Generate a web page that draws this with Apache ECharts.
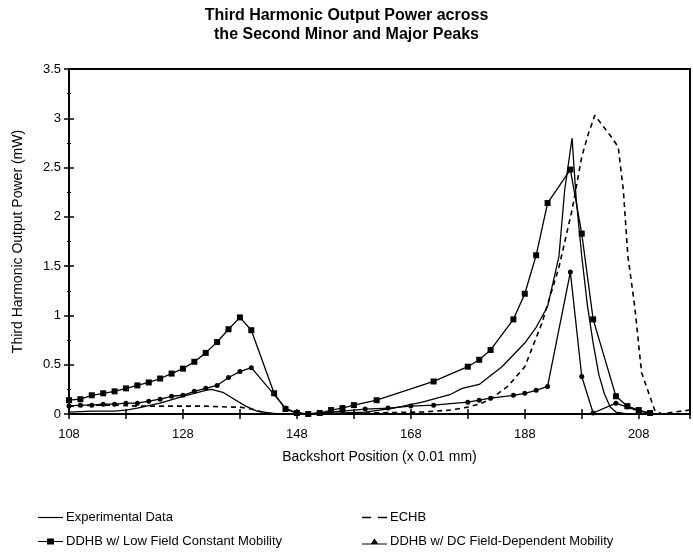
<!DOCTYPE html>
<html>
<head>
<meta charset="utf-8">
<style>
    html, body { margin: 0; padding: 0; background: #fff; }
    #chart { width: 693px; height: 552px; }
</style>
<script src="https://cdn.jsdelivr.net/npm/echarts@6/dist/echarts.min.js"></script>
</head>
<body>
<div id="chart"></div>
<script>
    // series names (legend order)
    var names = ['Experimental Data', 'ECHB', 'DDHB w/ Low Field Constant Mobility', 'DDHB w/ DC Field-Dependent Mobility'];

    // Experimental Data (solid, no markers)
    var expX = [108, 112, 116, 118, 120, 124, 128, 130, 132, 133, 135, 137, 139, 141, 143, 145, 150, 156, 160, 165, 170, 175, 177, 180, 184, 188, 190, 192, 194, 195, 196.3, 197, 198, 199, 200, 201, 202, 203, 204, 206, 210, 217];
    var expY = [0.02, 0.03, 0.03, 0.04, 0.06, 0.11, 0.18, 0.21, 0.24, 0.25, 0.22, 0.15, 0.08, 0.03, 0.01, 0, 0, 0.01, 0.02, 0.06, 0.12, 0.2, 0.26, 0.3, 0.48, 0.72, 0.88, 1.09, 1.6, 2.27, 2.8, 2.2, 1.6, 1.1, 0.72, 0.4, 0.2, 0.07, 0.02, 0, 0, 0];

    // ECHB (dashed)
    var echbX = [108, 112, 116, 120, 124, 128, 132, 136, 138, 140, 142, 144, 150, 160, 170, 175, 178, 180, 182, 185, 188, 191, 194, 196.3, 198, 199.2, 200.3, 203.2, 204.4, 205.3, 206.1, 207.3, 208.5, 210.8, 212, 214.3, 217];
    var echbY = [0.08, 0.09, 0.09, 0.08, 0.08, 0.08, 0.08, 0.07, 0.07, 0.05, 0.02, 0, 0, 0.01, 0.02, 0.04, 0.07, 0.1, 0.15, 0.28, 0.48, 0.92, 1.49, 2.07, 2.61, 2.85, 3.03, 2.81, 2.71, 2.27, 1.6, 1.09, 0.42, 0.04, 0, 0.02, 0.04];

    // DDHB w/ Low Field Constant Mobility (squares)
    var lowX = [108, 110, 112, 114, 116, 118, 120, 122, 124, 126, 128, 130, 132, 134, 136, 138, 140, 144, 146, 148, 150, 152, 154, 156, 158, 162, 172, 178, 180, 182, 186, 188, 190, 192, 196, 198, 200, 204, 206, 208, 210];
    var lowY = [0.14, 0.15, 0.19, 0.21, 0.23, 0.26, 0.29, 0.32, 0.36, 0.41, 0.46, 0.53, 0.62, 0.73, 0.86, 0.98, 0.85, 0.21, 0.05, 0.01, 0, 0.01, 0.04, 0.06, 0.09, 0.14, 0.33, 0.48, 0.55, 0.65, 0.96, 1.22, 1.61, 2.14, 2.48, 1.83, 0.96, 0.18, 0.08, 0.04, 0.01];

    // DDHB w/ DC Field-Dependent Mobility (dots)
    var dcX = [108, 110, 112, 114, 116, 118, 120, 122, 124, 126, 128, 130, 132, 134, 136, 138, 140, 146, 148, 150, 152, 156, 160, 164, 168, 172, 178, 180, 182, 186, 188, 190, 192, 196, 198, 200, 204, 206, 208, 210];
    var dcY = [0.08, 0.09, 0.09, 0.1, 0.1, 0.11, 0.11, 0.13, 0.15, 0.18, 0.19, 0.23, 0.26, 0.29, 0.37, 0.43, 0.47, 0.06, 0.01, 0, 0.01, 0.03, 0.05, 0.06, 0.08, 0.09, 0.12, 0.14, 0.16, 0.19, 0.21, 0.24, 0.28, 1.44, 0.38, 0.01, 0.11, 0.07, 0.03, 0.01];

    // axis ticks
    var xMin = 108, xMax = 217, xStep = 10;
    var yMin = 0, yMax = 3.5, yStep = 0.5;

    function pairs(xs, ys) {
        return xs.map(function (x, i) { return [x, ys[i]]; });
    }

    var font = "'Liberation Sans', Arial, sans-serif";
    var chart = echarts.init(document.getElementById('chart'));

    var xBase = {
        type: 'value', min: xMin, max: xMax, interval: xStep,
        splitLine: {show: false},
        axisLine: {onZero: false, lineStyle: {color: '#000', width: 2}}
    };
    var yBase = {
        type: 'value', min: yMin, max: yMax, interval: yStep,
        splitLine: {show: false},
        axisLine: {lineStyle: {color: '#000', width: 2}}
    };

    function legendAt(name, left, top, icon) {
        return {
            data: [{name: name, icon: icon}], left: left, top: top,
            itemWidth: 25, itemHeight: 9, itemGap: 0,
            textStyle: {fontFamily: font, fontSize: 13, color: '#000', padding: [0, 0, 0, -2]}
        };
    }

    // legend glyphs: plain line, short dashes, line with square, line with triangle
    var lineIcon = 'path://M0,4L25,4L25,5.2L0,5.2Z';
    var dashIcon = 'path://M0,4L8,4L8,5.4L0,5.4Z M14,4L22,4L22,5.4L14,5.4Z';
    var squareIcon = 'path://M0,4L9,4L9,1.5L16,1.5L16,4L25,4L25,5L16,5L16,7.5L9,7.5L9,5L0,5Z';
    var triIcon = 'path://M0,6L9,6L12.5,1L16,6L25,6L25,7L0,7Z';

    var option = {
        animation: false,
        backgroundColor: '#fff',
        title: {
            text: 'Third Harmonic Output Power across\nthe Second Minor and Major Peaks',
            left: 'center', top: 1,
            textStyle: {fontFamily: font, fontSize: 16, fontWeight: 'bold', color: '#000', lineHeight: 19}
        },
        grid: {
            left: 69, top: 69, right: -2, bottom: 138,
            show: true, borderColor: '#000', borderWidth: 2
        },
        legend: [
            legendAt(names[0], 33, 506, lineIcon),
            legendAt(names[1], 357, 506, dashIcon),
            legendAt(names[2], 33, 530, squareIcon),
            legendAt(names[3], 357, 530, triIcon)
        ],
        xAxis: [
            Object.assign({}, xBase, {
                position: 'bottom',
                name: 'Backshort Position (x 0.01 mm)',
                nameLocation: 'middle', nameGap: 36,
                nameTextStyle: {fontFamily: font, fontSize: 14, color: '#000'},
                axisTick: {length: 5, lineStyle: {color: '#000', width: 1.5}},
                axisLabel: {
                    fontFamily: font, fontSize: 13, color: '#000', margin: 14,
                    formatter: function (v) { return (v - xMin) % 20 === 0 ? String(v) : ''; }
                }
            }),
            Object.assign({}, xBase, {
                position: 'bottom',
                axisTick: {inside: true, length: 5, lineStyle: {color: '#000', width: 1.5}},
                axisLabel: {show: false}
            })
        ],
        yAxis: [
            Object.assign({}, yBase, {
                name: 'Third Harmonic Output Power (mW)',
                nameLocation: 'middle', nameGap: 44,
                nameTextStyle: {fontFamily: font, fontSize: 14, color: '#000'},
                axisTick: {length: 5, lineStyle: {color: '#000', width: 1.5}},
                minorTick: {show: true, splitNumber: 2, length: 2, lineStyle: {color: '#000'}},
                axisLabel: {fontFamily: font, fontSize: 13, color: '#000', margin: 8}
            }),
            Object.assign({}, yBase, {
                position: 'left',
                axisTick: {inside: true, length: 5, lineStyle: {color: '#000', width: 1.5}},
                minorTick: {show: true, splitNumber: 2, length: 2, lineStyle: {color: '#000'}},
                axisLabel: {show: false}
            })
        ],
        series: [
            {
                name: names[0], type: 'line', data: pairs(expX, expY),
                symbol: 'none', lineStyle: {color: '#000', width: 1.3}, itemStyle: {color: '#000'}
            },
            {
                name: names[1], type: 'line', data: pairs(echbX, echbY),
                symbol: 'none', lineStyle: {color: '#000', width: 1.6, type: [5, 4]}, itemStyle: {color: '#000'}
            },
            {
                name: names[2], type: 'line', data: pairs(lowX, lowY),
                symbol: 'rect', symbolSize: 6, lineStyle: {color: '#000', width: 1.3}, itemStyle: {color: '#000'}
            },
            {
                name: names[3], type: 'line', data: pairs(dcX, dcY),
                symbol: 'circle', symbolSize: 5, lineStyle: {color: '#000', width: 1.3}, itemStyle: {color: '#000'}
            }
        ]
    };
    chart.setOption(option);
</script>
</body>
</html>
